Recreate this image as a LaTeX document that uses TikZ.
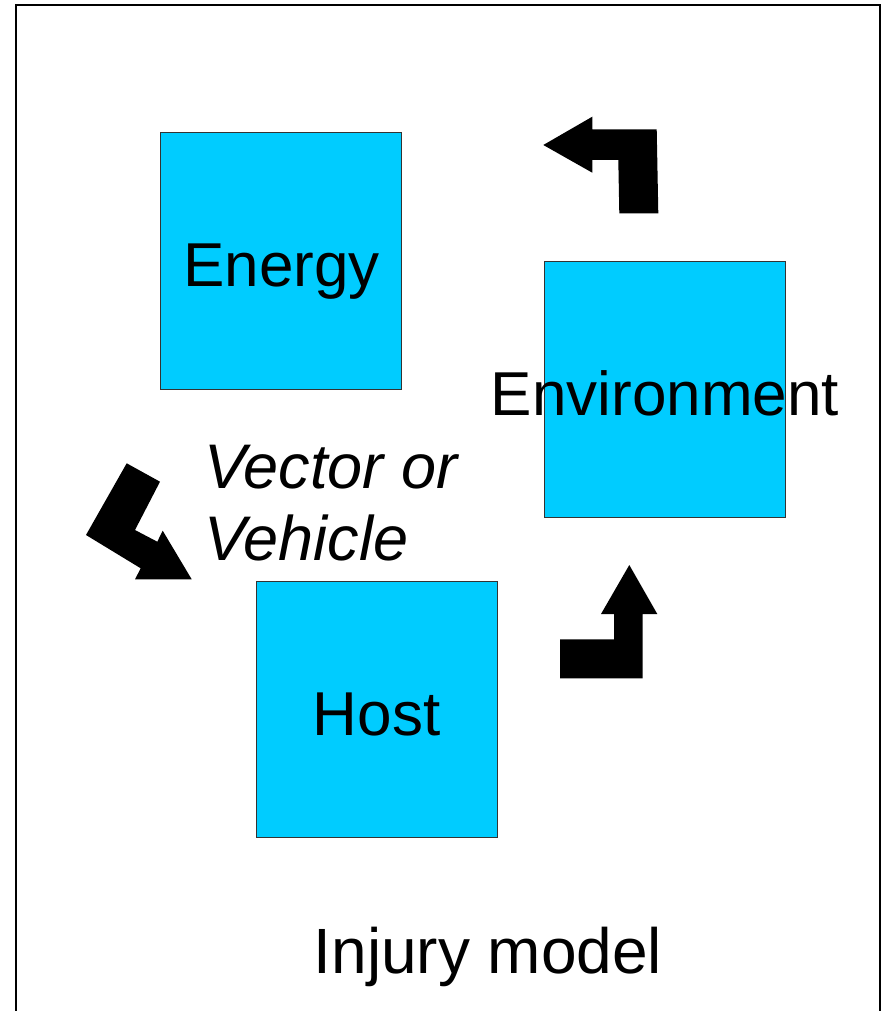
\documentclass[tikz,border=0pt]{standalone}
\usepackage{fontspec}
\setmainfont{Liberation Sans}
\definecolor{boxcyan}{HTML}{00CCFF}
\tikzset{
  sqbox/.style={draw=black!80, line width=1pt, fill=boxcyan},
  lbl/.style={anchor=base, inner sep=0pt, font=\fontsize{62}{72}\selectfont},
  blockarrow/.style={fill=black, draw=none},
}
\begin{document}
\begin{tikzpicture}[x=1pt,y=-1pt]
\useasboundingbox (0,0) rectangle (884,1011);
% frame (open at bottom)
\draw[line width=1.5pt] (16,1011) -- (16,5) -- (880,5) -- (880,1011);
% boxes
\draw[sqbox] (160,133) rectangle (401,389);
\draw[sqbox] (544,261) rectangle (785,517);
\draw[sqbox] (256,581) rectangle (497,837);
% labels
\node[lbl] (energy) at (281.5,286.7) {Energy};
\node[lbl] (environment) at (665,415) {Environment};
\node[lbl] (host) at (376.5,735) {Host};
\node[lbl, anchor=base west, font=\fontsize{63}{72}\selectfont\itshape] (vec1) at (204,488.3) {Vector or};
\node[lbl, anchor=base west, font=\fontsize{63}{72}\selectfont\itshape] (vec2) at (204,560) {Vehicle};
\node[lbl, font=\fontsize{64}{72}\selectfont] (title) at (488,973.3) {Injury model};
% block arrows
\fill[blockarrow] (543.3,145) -- (592.3,116.7) -- (592.3,129.3) -- (656.7,129.3)
  -- (658.3,213.3) -- (619.3,213.3) -- (618.3,160) -- (592.3,160) -- (592.3,172.7) -- cycle;
\fill[blockarrow] (126.7,463.3) -- (160,481.7) -- (135,530) -- (157.3,541.7)
  -- (162.7,530.7) -- (191.7,579.3) -- (135,579.3) -- (140.7,568.3) -- (86,535) -- cycle;
\fill[blockarrow] (629.3,565) -- (657.3,614) -- (642.7,614) -- (642.7,678.3)
  -- (560,678.3) -- (560,639.3) -- (614,639.3) -- (614,614) -- (601,614) -- cycle;
\end{tikzpicture}
\end{document}
